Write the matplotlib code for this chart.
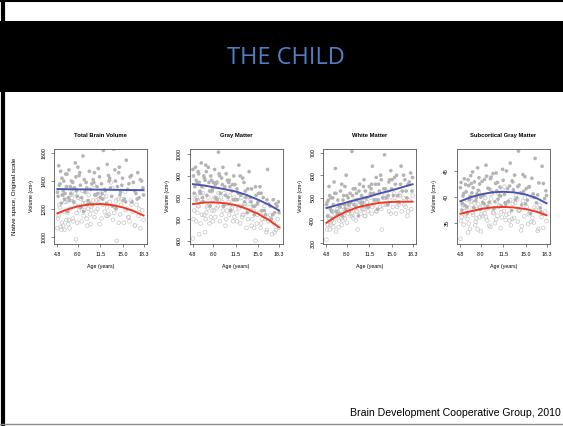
import numpy as np
import matplotlib
matplotlib.use('Agg')
import matplotlib.pyplot as plt
from matplotlib.patches import Rectangle
from matplotlib.lines import Line2D

# ages of the scanned subjects (filled = boys, open = girls)
ages_m = [4.9, 5.0, 5.2, 5.4, 5.5, 5.7, 5.9, 6.1, 6.2, 6.4,
          6.6, 6.9, 7.0, 7.3, 7.5, 7.6, 7.9, 8.2, 8.4, 8.5,
          8.8, 9.1, 9.3, 9.6, 9.8, 10.0, 10.3, 10.4, 10.7, 11.0,
          11.2, 11.5, 11.7, 12.0, 12.3, 12.5, 12.8, 13.1, 13.3, 13.6,
          13.9, 14.0, 14.4, 14.7, 14.9, 15.3, 15.6, 15.8, 16.2, 16.5,
          16.7, 17.1, 17.4, 17.6, 18.0, 18.2, 5.3, 6.0, 6.8, 7.7,
          8.9, 10.9, 12.6, 15.1,
          5.1, 5.6, 6.3, 6.7, 7.2, 7.8, 8.0, 8.6, 9.0, 9.4,
          9.9, 10.2, 10.6, 11.1, 11.4, 11.9, 12.2, 12.9, 13.4, 13.8,
          14.2, 14.6, 15.0, 15.5, 16.0, 16.4, 16.9, 17.3, 17.8, 18.3,
          4.8, 5.8, 6.5, 7.4, 8.3, 9.5, 10.5, 11.8, 13.0, 14.5]
ages_f = [4.8, 5.0, 5.1, 5.3, 5.6, 5.8, 5.9, 6.2, 6.3, 6.5,
          6.8, 7.0, 7.2, 7.4, 7.7, 7.8, 8.0, 8.3, 8.6, 8.7,
          9.0, 9.2, 9.5, 9.7, 9.9, 10.2, 10.5, 10.6, 10.9, 11.1,
          11.4, 11.6, 11.9, 12.2, 12.4, 12.7, 13.0, 13.2, 13.5, 13.8,
          14.1, 14.3, 14.6, 14.8, 15.2, 15.4, 15.7, 16.0, 16.3, 16.6,
          16.9, 17.2, 17.5, 17.8, 18.1, 18.3, 5.5, 6.1, 6.7, 7.5,
          8.1, 9.4, 11.3, 13.7,
          4.9, 5.2, 5.7, 6.0, 6.4, 6.9, 7.3, 7.6, 8.2, 8.5,
          8.9, 9.3, 9.6, 10.0, 10.4, 10.8, 11.2, 11.7, 12.0, 12.6,
          12.9, 13.4, 13.9, 14.4, 14.9, 15.5, 15.9, 16.4, 17.0, 17.6,
          5.4, 6.6, 7.1, 7.9, 8.8, 10.1, 10.7, 12.5, 14.0, 16.1]

# total brain volume
tbv_m = [1290, 1510, 1380, 1240, 1420, 1330, 1270, 1450, 1360, 1180,
         1480, 1310, 1400, 1250, 1350, 1530, 1290, 1440, 1370, 1210,
         1580, 1320, 1390, 1260, 1470, 1340, 1230, 1410, 1300, 1360,
         1490, 1280, 1380, 1620, 1330, 1240, 1440, 1350, 1290, 1630,
         1400, 1200, 1460, 1320, 1370, 1270, 1550, 1340, 1430, 1250,
         1390, 1310, 1460, 1280, 1400, 1350, 1470, 1310, 1360, 1430,
         1180, 1300, 1520, 1260,
         1370, 1300, 1450, 1260, 1390, 1330, 1500, 1280, 1410, 1350,
         1240, 1380, 1460, 1310, 1430, 1270, 1340, 1400, 1220, 1480,
         1360, 1300, 1420, 1250, 1380, 1440, 1330, 1270, 1410, 1300,
         1320, 1400, 1280, 1350, 1460, 1230, 1390, 1310, 1420, 1500]
tbv_f = [1060, 1150, 1230, 1070, 1300, 1180, 1050, 1120, 1260, 1090,
         1200, 1340, 1130, 1250, 980, 1170, 1280, 1210, 1110, 1330,
         1190, 1240, 1080, 1300, 1160, 1220, 1370, 1140, 1260, 1200,
         1090, 1310, 1230, 1180, 1290, 1150, 1250, 1390, 1120, 1210,
         970, 1270, 1160, 1230, 1100, 1320, 1200, 1140, 1260, 1180,
         1080, 1230, 1150, 1060, 1190, 1120, 1100, 1250, 1060, 1310,
         1220, 1130, 1270, 1170,
         1130, 1210, 1080, 1250, 1170, 1300, 1110, 1230, 1190, 1270,
         1150, 1320, 1200, 1090, 1260, 1180, 1240, 1130, 1290, 1210,
         1160, 1350, 1220, 1100, 1270, 1190, 1140, 1230, 1080, 1200,
         1050, 1120, 1280, 1100, 1240, 1190, 1300, 1150, 1260, 1110]

# gray matter
gm_m = [900, 820, 940, 790, 870, 910, 830, 960, 850, 780,
        890, 920, 810, 870, 760, 900, 840, 930, 800, 870,
        1010, 820, 890, 760, 850, 910, 800, 870, 740, 860,
        900, 790, 840, 950, 810, 760, 870, 800, 730, 920,
        780, 840, 720, 810, 770, 850, 740, 800, 720, 930,
        770, 700, 790, 730, 760, 780, 880, 820, 950, 880,
        910, 830, 890, 820,
        850, 920, 800, 880, 940, 830, 870, 790, 900, 860,
        810, 880, 850, 790, 860, 820, 900, 780, 840, 800,
        760, 850, 780, 820, 740, 790, 760, 720, 770, 730,
        930, 870, 900, 830, 860, 940, 880, 790, 830, 760]
gm_f = [610, 740, 810, 690, 760, 630, 820, 720, 780, 850,
        700, 760, 800, 680, 830, 740, 790, 710, 870, 760,
        690, 800, 740, 820, 670, 770, 720, 810, 750, 690,
        790, 730, 760, 680, 800, 720, 760, 660, 740, 790,
        700, 740, 600, 680, 730, 660, 700, 760, 640, 690,
        720, 630, 680, 650, 700, 660, 730, 790, 640, 770,
        740, 780, 710, 770,
        700, 790, 760, 680, 820, 730, 770, 710, 800, 750,
        790, 720, 760, 700, 780, 740, 800, 690, 750, 720,
        770, 700, 740, 660, 720, 680, 730, 650, 700, 640,
        800, 720, 750, 690, 820, 740, 770, 710, 670, 700]

# white matter
wm_m = [480, 420, 550, 450, 500, 410, 470, 520, 630, 440,
        490, 460, 530, 420, 510, 470, 600, 500, 440, 520,
        705, 470, 540, 490, 420, 560, 510, 470, 580, 500,
        460, 550, 520, 640, 490, 560, 450, 530, 600, 500,
        690, 540, 470, 580, 620, 510, 560, 600, 480, 640,
        530, 580, 500, 560, 610, 530, 510, 570, 430, 550,
        510, 530, 590, 580,
        490, 440, 520, 470, 560, 450, 510, 480, 540, 460,
        530, 480, 550, 500, 460, 560, 520, 490, 580, 540,
        500, 570, 540, 590, 510, 560, 600, 530, 570, 590,
        470, 500, 430, 490, 470, 520, 480, 540, 560, 510]
wm_f = [315, 380, 420, 360, 400, 440, 370, 410, 350, 450,
        400, 430, 380, 460, 410, 440, 390, 470, 420, 450,
        410, 490, 440, 360, 470, 430, 500, 450, 420, 480,
        460, 510, 430, 470, 490, 440, 520, 460, 360, 500,
        470, 530, 440, 490, 460, 520, 430, 480, 510, 440,
        500, 460, 420, 490, 450, 510, 390, 430, 370, 420,
        460, 400, 440, 470,
        360, 410, 440, 390, 420, 460, 400, 450, 430, 480,
        420, 470, 440, 490, 450, 420, 480, 500, 460, 440,
        490, 450, 510, 470, 430, 500, 460, 520, 470, 440,
        380, 440, 410, 460, 430, 480, 450, 490, 500, 470]

# subcortical gray matter
sgm_m = [42.8, 37.5, 40.2, 43.5, 38.4, 41.0, 36.9, 42.2, 39.5, 44.1,
         40.8, 38.0, 42.9, 39.9, 45.6, 41.3, 37.6, 43.0, 40.4, 38.7,
         46.1, 41.7, 39.0, 43.8, 40.9, 37.8, 42.6, 44.6, 39.6, 41.9,
         38.3, 43.2, 40.5, 45.0, 39.2, 42.1, 37.4, 41.4, 44.2, 39.8,
         48.8, 42.3, 38.5, 41.1, 43.9, 39.4, 42.0, 36.8, 40.6, 47.4,
         38.9, 42.7, 37.2, 45.9, 39.7, 41.2, 40.7, 43.3, 41.8, 43.7,
         44.0, 40.3, 46.5, 41.6,
         38.8, 42.4, 40.1, 44.8, 39.3, 42.5, 40.0, 43.4, 38.2, 41.5,
         44.5, 39.1, 42.8, 40.2, 45.3, 38.6, 41.6, 43.1, 39.5, 42.0,
         40.8, 44.3, 38.7, 41.9, 43.6, 39.9, 40.4, 37.9, 42.6, 40.3,
         41.8, 38.1, 42.6, 40.6, 39.0, 43.5, 41.2, 38.9, 42.9, 40.7]
sgm_f = [32.0, 36.2, 38.6, 34.7, 37.4, 39.5, 35.8, 38.0, 33.9, 40.1,
         36.6, 38.9, 35.2, 37.7, 41.0, 36.1, 33.4, 38.3, 36.9, 39.8,
         35.5, 37.9, 34.3, 40.6, 37.1, 35.0, 39.2, 36.4, 38.4, 34.0,
         41.4, 37.3, 35.6, 39.0, 36.8, 34.6, 38.7, 36.0, 40.3, 35.3,
         37.5, 33.6, 39.3, 36.3, 38.1, 34.8, 37.0, 40.0, 35.1, 37.6,
         33.5, 38.5, 36.2, 34.1, 37.2, 35.4, 36.5, 34.9, 37.0, 33.8,
         36.7, 38.8, 36.1, 39.6,
         35.4, 38.4, 36.8, 33.2, 39.1, 37.5, 35.9, 38.6, 36.3, 40.4,
         37.8, 34.5, 39.7, 36.9, 35.7, 38.2, 37.1, 42.0, 36.6, 39.4,
         35.8, 38.9, 37.4, 34.4, 39.9, 36.7, 35.2, 38.0, 33.9, 36.8,
         37.3, 39.2, 34.6, 38.1, 36.2, 37.9, 40.8, 35.5, 37.4, 36.0]

# fitted trajectories
fit_ages = [4.8, 6.5, 8.0, 9.7, 11.5, 13.2, 15.0, 16.7, 18.3]
tbv_fit_m = [1342, 1341, 1340, 1339, 1338, 1337, 1336, 1335, 1334]
tbv_fit_f = [1168, 1198, 1218, 1231, 1235, 1228, 1211, 1185, 1152]
gm_fit_m = [862, 856, 848, 839, 828, 812, 790, 767, 740]
gm_fit_f = [770, 777, 778, 774, 765, 748, 725, 696, 662]
wm_fit_m = [455, 468, 480, 493, 506, 520, 533, 547, 560]
wm_fit_f = [390, 420, 441, 458, 470, 478, 482, 483, 483]
sgm_fit_m = [39.2, 40.0, 40.5, 40.9, 41.0, 40.9, 40.5, 39.8, 38.8]
sgm_fit_f = [36.8, 37.3, 37.7, 38.0, 38.1, 38.0, 37.7, 37.2, 36.5]

titles = ['Total Brain Volume', 'Gray Matter', 'White Matter', 'Subcortical Gray Matter']
xticks = [4.8, 8.0, 11.5, 15.0, 18.3]
xtick_labels = ['4.8', '8.0', '11.5', '15.0', '18.3']
yticks = [[1000, 1200, 1400, 1600], [600, 700, 800, 900, 1000],
          [300, 400, 500, 600, 700], [35, 40, 45]]
ylims = [(947, 1634), (585, 1027), (296, 718), (31.0, 49.3)]

panels = [(tbv_m, tbv_f, tbv_fit_m, tbv_fit_f),
          (gm_m, gm_f, gm_fit_m, gm_fit_f),
          (wm_m, wm_f, wm_fit_m, wm_fit_f),
          (sgm_m, sgm_f, sgm_fit_m, sgm_fit_f)]

W, H = 563, 426
fig = plt.figure(figsize=(W / 100, H / 100), dpi=100)
fig.patch.set_facecolor('white')

# slide header band and frame
fig.patches.append(Rectangle((0, 1 - 92 / H), 1, 71 / H, transform=fig.transFigure,
                             facecolor='black', edgecolor='none', zorder=0))
fig.lines.append(Line2D([0, 1], [1 - 1 / H, 1 - 1 / H], transform=fig.transFigure,
                        color='black', lw=1.5))
fig.lines.append(Line2D([3 / W, 3 / W], [1 - 424 / H, 1], transform=fig.transFigure,
                        color='black', lw=3))
fig.lines.append(Line2D([0, 1], [1 - 424 / H, 1 - 424 / H], transform=fig.transFigure,
                        color='#8c8c8c', lw=1))

fig.text(286 / W, 1 - 58 / H, 'THE CHILD', color='#4f7fc0', fontsize=17,
         family='Open Sans', ha='center', va='center')
fig.text(561 / W, 1 - 413 / H, 'Brain Development Cooperative Group, 2010',
         fontsize=7.6, family='Liberation Sans', ha='right', va='center')
fig.text(15 / W, 1 - 196 / H, 'Native space, Original scale', rotation=90,
         fontsize=4.5, family='Liberation Sans', ha='center', va='center')

lefts = [54, 189.5, 323, 457]
box_w, box_top, box_bot = 93, 148.5, 244

for i in range(4):
    vol_m, vol_f, fit_m, fit_f = panels[i]
    ax = fig.add_axes([lefts[i] / W, 1 - box_bot / H, box_w / W, (box_bot - box_top) / H])

    ax.scatter(ages_f, vol_f, s=7, facecolors='none', edgecolors='#c6c6c6', linewidths=0.5)
    ax.scatter(ages_m, vol_m, s=7, color='#b4b4b4', edgecolors='none')
    ax.plot(fit_ages, fit_m, color='#4b55b0', lw=1.4)
    ax.plot(fit_ages, fit_f, color='#ee3a24', lw=1.4)

    ax.set_xlim(4.8 - 0.54, 18.3 + 0.54)
    ax.set_ylim(ylims[i])
    ax.set_xticks(xticks)
    ax.set_xticklabels(xtick_labels)
    ax.set_yticks(yticks[i])
    ax.set_yticklabels([str(t) for t in yticks[i]], rotation=90, va='center')

    for s in ax.spines.values():
        s.set_color('#555555')
        s.set_linewidth(0.6)
    ax.tick_params(length=2.5, width=0.5, color='#555555', labelsize=3.8, pad=3)
    for lab in ax.get_xticklabels() + ax.get_yticklabels():
        lab.set_family('Liberation Sans')

    ax.set_title(titles[i], fontsize=4.2, fontweight='bold', family='Liberation Sans', pad=8)
    ax.set_xlabel('Age (years)', fontsize=3.8, family='Liberation Sans', labelpad=5)
    ax.set_ylabel('Volume (cm³)', fontsize=3.8, family='Liberation Sans', labelpad=5)

fig.savefig('out.png', dpi=100)
